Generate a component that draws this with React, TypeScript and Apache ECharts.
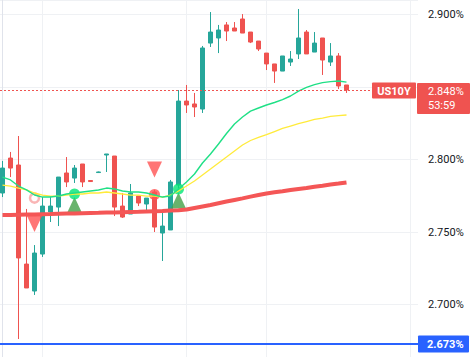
import React, { useEffect, useRef } from "react";
import * as echarts from "echarts";

// ---- data (bar slots 0..43, one bar per slot) ----
const openP = [
  2.7769, 2.8010, 2.7962, 2.7279, 2.7093, 2.7348, 2.7638, 2.7672, 2.7907, 2.7872,
  2.7969, 2.7855, 2.7910, 2.8031, 2.8024, 2.7679, 2.7624, 2.7748, 2.7693, 2.7776,
  2.7493, 2.7514, 2.7824, 2.8403, 2.8383, 2.8348, 2.8803, 2.8838, 2.8928, 2.8907,
  2.8969, 2.8879, 2.8817, 2.8734, 2.8659, 2.8610, 2.8672, 2.8728, 2.8879, 2.8741,
  2.8838, 2.8672, 2.8714, 2.8514,
];
const closeP = [
  2.7941, 2.7941, 2.7321, 2.7114, 2.7355, 2.7679, 2.7679, 2.7879, 2.7845, 2.7941,
  2.7845, 2.7848, 2.7914, 2.8038, 2.7672, 2.7603, 2.7769, 2.7700, 2.7734, 2.7534,
  2.7541, 2.7845, 2.8403, 2.8376, 2.8362, 2.8769, 2.8879, 2.8893, 2.8886, 2.8886,
  2.8872, 2.8810, 2.8762, 2.8659, 2.8610, 2.8714, 2.8693, 2.8838, 2.8728, 2.8803,
  2.8686, 2.8714, 2.8507, 2.8480,
];
const lowP = [
  2.7741, 2.7879, 2.6762, 2.7114, 2.7066, 2.7328, 2.7569, 2.7541, 2.7810, 2.7838,
  2.7810, 2.7845, 2.7907, 2.7914, 2.7610, 2.7597, 2.7624, 2.7679, 2.7631, 2.7500,
  2.7300, 2.7514, 2.7790, 2.8321, 2.8293, 2.8321, 2.8776, 2.8734, 2.8817, 2.8886,
  2.8872, 2.8803, 2.8748, 2.8617, 2.8528, 2.8610, 2.8645, 2.8693, 2.8728, 2.8741,
  2.8583, 2.8645, 2.8486, 2.8459,
];
const highP = [
  2.7990, 2.8052, 2.8162, 2.7659, 2.7410, 2.7741, 2.7748, 2.7879, 2.8017, 2.7962,
  2.7969, 2.7858, 2.7917, 2.8038, 2.8024, 2.7769, 2.7831, 2.7748, 2.7734, 2.7790,
  2.7645, 2.7859, 2.8479, 2.8514, 2.8459, 2.8783, 2.9017, 2.8928, 2.8948, 2.8948,
  2.9003, 2.8879, 2.8817, 2.8734, 2.8659, 2.8714, 2.8748, 2.9038, 2.8893, 2.8879,
  2.8838, 2.8803, 2.8734, 2.8514,
];
const maFast = [
  2.7879, 2.7859, 2.7817, 2.7790, 2.7755, 2.7741, 2.7741, 2.7748, 2.7762, 2.7769,
  2.7776, 2.7783, 2.7790, 2.7803, 2.7797, 2.7783, 2.7776, 2.7776, 2.7769, 2.7755,
  2.7741, 2.7748, 2.7797, 2.7845, 2.7900, 2.7976, 2.8038, 2.8107, 2.8179, 2.8245,
  2.8293, 2.8334, 2.8355, 2.8376, 2.8393, 2.8413, 2.8438, 2.8472, 2.8497, 2.8516,
  2.8530, 2.8537, 2.8541, 2.8534,
];
const maMid = [
  2.7824, 2.7817, 2.7803, 2.7790, 2.7769, 2.7755, 2.7748, 2.7748, 2.7755, 2.7762,
  2.7762, 2.7769, 2.7769, 2.7776, 2.7769, 2.7762, 2.7755, 2.7755, 2.7748, 2.7748,
  2.7741, 2.7755, 2.7783, 2.7817, 2.7852, 2.7893, 2.7934, 2.7976, 2.8017, 2.8059,
  2.8100, 2.8131, 2.8152, 2.8172, 2.8193, 2.8214, 2.8231, 2.8248, 2.8262, 2.8276,
  2.8286, 2.8297, 2.8303, 2.8307,
];
const maSlow = [
  2.7617, 2.7617, 2.7619, 2.7620, 2.7621, 2.7623, 2.7624, 2.7626, 2.7627, 2.7628,
  2.7630, 2.7631, 2.7632, 2.7634, 2.7635, 2.7637, 2.7638, 2.7639, 2.7641, 2.7643,
  2.7645, 2.7648, 2.7650, 2.7655, 2.7666, 2.7676, 2.7686, 2.7698, 2.7710, 2.7721,
  2.7732, 2.7744, 2.7755, 2.7766, 2.7774, 2.7781, 2.7790, 2.7797, 2.7803, 2.7812,
  2.7819, 2.7827, 2.7834, 2.7842,
];
const buyIdx = [9, 22];
const buyVal = [2.7686, 2.7717];
const sellIdx = [4, 19];
const sellVal = [2.7555, 2.7931];
const crossIdx = [4, 9, 19, 22];
const crossVal = [2.7734, 2.7762, 2.7759, 2.7797];
const crossKind = ["faded", "buy", "sell", "buy"];
const sessionSlots = [5, 23, 33, 51];
const symbolName = "US10Y";
const lastPrice = 2.848;
const countdown = "53:59";
const refLevel = 2.673;
const yMin = 2.6638;
const yMax = 2.91;

const FONT = "Roboto";
const UP = "#26a69a";
const DOWN = "#ef5350";
const BLUE = "#2962ff";

export default function App() {
  const ref = useRef<HTMLDivElement>(null);
  useEffect(() => {
    document.body.style.margin = "0";
    const chart = echarts.init(ref.current!, null, { renderer: "svg" });
    const candles = openP.map((o, i) => [i, o, closeP[i], lowP[i], highP[i]]);
    const line = (arr: number[]) => arr.map((v, i) => [i, v]);
    const crossStyle = (k: string) =>
      k === "buy"
        ? { color: "#00e676" }
        : k === "sell"
        ? { color: "#ff5252" }
        : { color: "#ffffff", borderColor: "#f7a3a3", borderWidth: 2.5 };
    const option: any = {
      animation: false,
      grid: { left: 0, top: 0, width: 418, bottom: 0 },
      xAxis: {
        type: "value",
        min: -0.3125,
        max: 51.9375,
        show: false,
      },
      yAxis: {
        type: "value",
        position: "right",
        min: yMin,
        max: yMax,
        splitNumber: 5,
        axisLine: { show: true, lineStyle: { color: "#e0e3eb", width: 1 } },
        axisTick: { show: false },
        splitLine: { show: true, lineStyle: { color: "#eff1f4", width: 1 } },
        axisLabel: {
          margin: 10,
          color: "#131722",
          fontSize: 11,
          fontFamily: FONT,
          showMaxLabel: false,
          showMinLabel: false,
          formatter: (v: number) =>
            Math.abs(v - lastPrice) < 0.012 || Math.abs(v - refLevel) < 0.012 ? "" : v.toFixed(3) + "%",
        },
      },
      series: [
        {
          type: "line",
          data: line(maMid),
          showSymbol: false,
          silent: true,
          lineStyle: { color: "#ffeb3b", width: 1.3 },
          markLine: {
            z: 1,
            silent: true,
            symbol: "none",
            label: { show: false },
            lineStyle: { color: "#eff1f4", width: 1, type: "solid" },
            data: sessionSlots.map((s) => ({ xAxis: s })),
          },
        },
        {
          type: "line",
          data: line(maFast),
          showSymbol: false,
          silent: true,
          lineStyle: { color: "#1fe086", width: 1.4 },
        },
        {
          type: "line",
          data: line(maSlow),
          showSymbol: false,
          silent: true,
          lineStyle: { color: "#f45656", width: 4 },
        },
        {
          type: "candlestick",
          data: candles,
          encode: { x: 0, y: [1, 2, 3, 4] },
          barWidth: 4,
          silent: true,
          itemStyle: {
            color: UP,
            color0: DOWN,
            borderColor: UP,
            borderColor0: DOWN,
            borderWidth: 1,
          },
        },
        {
          type: "scatter",
          silent: true,
          symbol: "triangle",
          symbolSize: [15, 16],
          itemStyle: { color: "#43a047" },
          data: buyIdx.map((k, i) => [k, buyVal[i]]),
        },
        {
          type: "scatter",
          silent: true,
          symbol: "triangle",
          symbolRotate: 180,
          symbolSize: [15, 16],
          itemStyle: { color: "#ff5252" },
          data: sellIdx.map((k, i) => [k, sellVal[i]]),
        },
        {
          type: "scatter",
          silent: true,
          symbol: "circle",
          data: crossIdx.map((k, i) => ({
            value: [k, crossVal[i]],
            symbolSize: crossKind[i] === "faded" ? 9 : 11,
            itemStyle: crossStyle(crossKind[i]),
          })),
        },
      ],
    };
    chart.setOption(option);
    const yP = Math.round(chart.convertToPixel({ yAxisIndex: 0 }, lastPrice) as number) + 0.5;
    const yB = Math.round(chart.convertToPixel({ yAxisIndex: 0 }, refLevel) as number);
    chart.setOption({
      graphic: [
        {
          type: "line", z: 8, silent: true,
          shape: { x1: 0, y1: yP, x2: 372, y2: yP },
          style: { stroke: DOWN, lineWidth: 1, lineDash: [2, 2] },
        },
        {
          type: "line", z: 8, silent: true,
          shape: { x1: 0, y1: yB, x2: 418, y2: yB },
          style: { stroke: BLUE, lineWidth: 2 },
        },
        { type: "rect", shape: { x: 372, y: yP - 8, width: 44, height: 16, r: 1 }, style: { fill: DOWN }, z: 10 },
        {
          type: "text", x: 394, y: yP + 0.5, z: 11,
          style: { text: symbolName, fill: "#fff", font: `bold 11px ${FONT}`, align: "center", verticalAlign: "middle" },
        },
        { type: "rect", shape: { x: 417, y: yP - 7.5, width: 53, height: 31, r: 1 }, style: { fill: DOWN }, z: 10 },
        {
          type: "text", x: 428, y: yP + 0.5, z: 11,
          style: { text: lastPrice.toFixed(3) + "%", fill: "#fff", font: `11px ${FONT}`, align: "left", verticalAlign: "middle" },
        },
        {
          type: "text", x: 428, y: yP + 14.5, z: 11,
          style: { text: countdown, fill: "#fff", font: `11px ${FONT}`, align: "left", verticalAlign: "middle" },
        },
        { type: "rect", shape: { x: 418, y: yB - 8.5, width: 51, height: 17, r: 1 }, style: { fill: BLUE }, z: 10 },
        {
          type: "text", x: 427, y: yB + 0.5, z: 11,
          style: { text: refLevel.toFixed(3) + "%", fill: "#fff", font: `bold 11px ${FONT}`, align: "left", verticalAlign: "middle" },
        },
      ],
    });
    return () => chart.dispose();
  }, []);
  return <div ref={ref} style={{ width: 473, height: 357 }} />;
}
